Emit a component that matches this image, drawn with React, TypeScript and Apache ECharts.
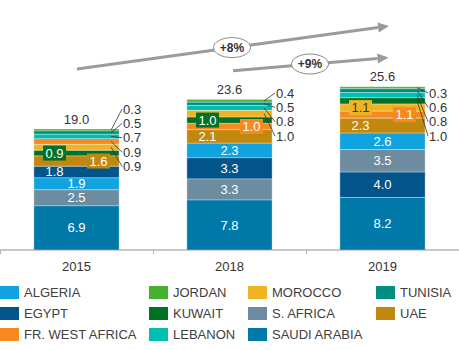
import React, { useEffect, useRef } from "react";
import * as echarts from "echarts";

const years = ["2015", "2018", "2019"];
const totals = [19.0, 23.6, 25.6];

const algeria = [1.9, 2.3, 2.6];
const egypt = [1.8, 3.3, 4.0];
const frWestAfrica = [0.9, 1.0, 1.1];
const jordan = [0.3, 0.4, 0.3];
const kuwait = [0.9, 1.0, 1.0];
const lebanon = [0.7, 0.8, 0.8];
const morocco = [0.9, 1.0, 1.1];
const sAfrica = [2.5, 3.3, 3.5];
const saudiArabia = [6.9, 7.8, 8.2];
const tunisia = [0.5, 0.5, 0.6];
const uae = [1.6, 2.1, 2.3];

// stacking order per year, bottom -> top (sorted by size)
const order2015 = ["SAUDI ARABIA", "S. AFRICA", "ALGERIA", "EGYPT", "UAE", "KUWAIT", "MOROCCO", "FR. WEST AFRICA", "LEBANON", "TUNISIA", "JORDAN"];
const order2018 = ["SAUDI ARABIA", "S. AFRICA", "EGYPT", "ALGERIA", "UAE", "FR. WEST AFRICA", "KUWAIT", "MOROCCO", "LEBANON", "TUNISIA", "JORDAN"];
const order2019 = ["SAUDI ARABIA", "EGYPT", "S. AFRICA", "ALGERIA", "UAE", "FR. WEST AFRICA", "MOROCCO", "KUWAIT", "LEBANON", "TUNISIA", "JORDAN"];
const stackOrders = [order2015, order2018, order2019];

const growthLabels = ["+8%", "+9%"];

const values: Record<string, number[]> = {
  "ALGERIA": algeria,
  "EGYPT": egypt,
  "FR. WEST AFRICA": frWestAfrica,
  "JORDAN": jordan,
  "KUWAIT": kuwait,
  "LEBANON": lebanon,
  "MOROCCO": morocco,
  "S. AFRICA": sAfrica,
  "SAUDI ARABIA": saudiArabia,
  "TUNISIA": tunisia,
  "UAE": uae,
};

const colors: Record<string, string> = {
  "ALGERIA": "#11a3e0",
  "EGYPT": "#02548a",
  "FR. WEST AFRICA": "#f7891e",
  "JORDAN": "#44b02e",
  "KUWAIT": "#007127",
  "LEBANON": "#00bfb2",
  "MOROCCO": "#f0b323",
  "S. AFRICA": "#6e8c9f",
  "SAUDI ARABIA": "#0078a8",
  "TUNISIA": "#008f82",
  "UAE": "#c1880f",
};

// label placement (layout, not data)
const labelModes: Record<string, Record<string, string>> = {
  "2015": { "EGYPT": "l", "UAE": "br", "KUWAIT": "bl" },
  "2018": { "UAE": "l", "FR. WEST AFRICA": "br", "KUWAIT": "bl" },
  "2019": { "UAE": "l", "FR. WEST AFRICA": "br", "MOROCCO": "bl" },
};
const extTop = [109, 93, 93];

const FONT = 'Arial, "Liberation Sans", sans-serif';
const BAR_RATIO = 0.557;

const legendCols = [
  ["ALGERIA", "EGYPT", "FR. WEST AFRICA"],
  ["JORDAN", "KUWAIT", "LEBANON"],
  ["MOROCCO", "S. AFRICA", "SAUDI ARABIA"],
  ["TUNISIA", "UAE"],
];
const legendLeft = [0, 149, 248, 376];

function buildSeriesData(country: string) {
  return years.map((_, i) => {
    let base = 0;
    for (const c of stackOrders[i]) {
      if (c === country) break;
      base += values[c][i];
    }
    return [i, base, base + values[country][i]];
  });
}

export default function App() {
  const ref = useRef<HTMLDivElement>(null);
  useEffect(() => {
    if (!ref.current) return;
    const chart = echarts.init(ref.current, undefined, { renderer: "svg" });
    const countries = Object.keys(values);

    const barSeries = countries.map((c) => ({
      name: c,
      type: "custom",
      itemStyle: { color: colors[c] },
      encode: { x: 0, y: [1, 2] },
      data: buildSeriesData(c),
      renderItem: (params: any, api: any) => {
        const i = api.value(0);
        const p0 = api.coord([i, api.value(1)]);
        const p1 = api.coord([i, api.value(2)]);
        const band = api.size([1, 0])[0];
        const w = band * BAR_RATIO;
        return {
          type: "rect",
          shape: { x: p0[0] - w / 2, y: p1[1], width: w, height: p0[1] - p1[1] },
          style: { fill: colors[c], stroke: "rgba(255,255,255,0.55)", lineWidth: 0.6 },
        };
      },
    }));

    const labelSeries = {
      name: "labels",
      type: "custom",
      z: 5,
      silent: true,
      encode: { x: 0, y: 1 },
      data: years.map((_, i) => [i, totals[i]]),
      renderItem: (params: any, api: any) => {
        const i = api.value(0);
        const band = api.size([1, 0])[0];
        const w = band * BAR_RATIO;
        const cx = api.coord([i, 0])[0];
        const children: any[] = [];
        const ext: { y: number; t: string }[] = [];
        let base = 0;
        for (const c of stackOrders[i]) {
          const v = values[c][i];
          const yMid = api.coord([i, base + v / 2])[1];
          const mode = (labelModes[years[i]] || {})[c] || (v >= 1.5 ? "c" : "x");
          const txt = v.toFixed(1);
          if (mode === "c" || mode === "l") {
            children.push({
              type: "text",
              x: cx + (mode === "l" ? -22 : 0),
              y: yMid,
              style: { text: txt, fill: "#ffffff", font: `13px ${FONT}`, align: "center", verticalAlign: "middle" },
            });
          } else if (mode === "bl" || mode === "br") {
            const bx = cx + (mode === "bl" ? -22 : 22);
            children.push({
              type: "rect",
              shape: { x: bx - 11.5, y: yMid - 7.5, width: 23, height: 15 },
              style: { fill: colors[c] },
            });
            children.push({
              type: "text",
              x: bx,
              y: yMid,
              style: {
                text: txt,
                fill: c === "MOROCCO" ? "#3a3a3a" : "#ffffff",
                font: `13px ${FONT}`,
                align: "center",
                verticalAlign: "middle",
              },
            });
          } else {
            ext.push({ y: yMid, t: txt });
          }
          base += v;
        }
        ext.reverse().forEach((e, k) => {
          const ly = extTop[i] + k * 14.4;
          const lx = cx + w / 2 + 4;
          children.push({
            type: "line",
            shape: { x1: cx + w / 2 - 8, y1: e.y, x2: lx - 1, y2: ly },
            style: { stroke: "#333333", lineWidth: 0.8 },
          });
          children.push({
            type: "text",
            x: lx,
            y: ly,
            style: { text: e.t, fill: "#333333", font: `13px ${FONT}`, align: "left", verticalAlign: "middle" },
          });
        });
        const topY = api.coord([i, base])[1];
        children.push({
          type: "text",
          x: cx,
          y: topY - 10,
          style: { text: totals[i].toFixed(1), fill: "#333333", font: `13px ${FONT}`, align: "center", verticalAlign: "middle" },
        });
        return { type: "group", children };
      },
    };

    const arrowColor = "#9b9b9b";
    const makeArrow = (x1: number, y1: number, tx: number, ty: number) => {
      const dx = tx - x1;
      const dy = ty - y1;
      const len = Math.sqrt(dx * dx + dy * dy);
      const ux = dx / len;
      const uy = dy / len;
      const bx = tx - 11 * ux;
      const by = ty - 11 * uy;
      const nx = -uy;
      const ny = ux;
      return [
        { type: "line", shape: { x1, y1, x2: bx, y2: by }, style: { stroke: arrowColor, lineWidth: 3 } },
        {
          type: "polygon",
          shape: { points: [[tx, ty], [bx + 5 * nx, by + 5 * ny], [bx - 5 * nx, by - 5 * ny]] },
          style: { fill: arrowColor },
        },
      ];
    };
    const bubble = (cxp: number, cyp: number, t: string) => [
      { type: "ellipse", shape: { cx: cxp, cy: cyp, rx: 18.5, ry: 10 }, style: { fill: "#ffffff", stroke: "#8a8a8a", lineWidth: 1 } },
      {
        type: "text",
        x: cxp,
        y: cyp,
        style: {
          text: t,
          font: `bold 12px ${FONT}`,
          fill: "#333333",
          align: "center",
          verticalAlign: "middle",
          textAlign: "center",
          textVerticalAlign: "middle",
        },
      },
    ];

    chart.setOption({
      animation: false,
      grid: { left: -1, right: -8, top: 58, bottom: 100 },
      xAxis: {
        type: "category",
        data: years,
        axisLine: { lineStyle: { color: "#b4b4b4", width: 1.5 } },
        axisTick: { show: true, length: 4, lineStyle: { color: "#b4b4b4" } },
        axisLabel: { fontSize: 13, color: "#333333", fontFamily: FONT, margin: 10 },
      },
      yAxis: { type: "value", min: 0, max: 30, show: false },
      legend: legendCols.map((col, k) => ({
        data: col,
        orient: "vertical",
        left: legendLeft[k],
        top: 286,
        padding: 0,
        itemWidth: 19,
        itemHeight: 13,
        itemGap: 8,
        icon: "rect",
        selectedMode: false,
        textStyle: { fontSize: 13, color: "#404040", fontFamily: FONT },
      })),
      graphic: [
        ...makeArrow(77, 69, 389, 26),
        ...makeArrow(233, 70.7, 388.5, 57.5),
        ...bubble(232, 47.6, growthLabels[0]),
        ...bubble(310, 64, growthLabels[1]),
      ],
      series: [...barSeries, labelSeries],
    });
    return () => chart.dispose();
  }, []);
  return (
    <div
      ref={ref}
      style={{ position: "fixed", left: 0, top: 0, width: 459, height: 350, background: "#ffffff" }}
    />
  );
}
